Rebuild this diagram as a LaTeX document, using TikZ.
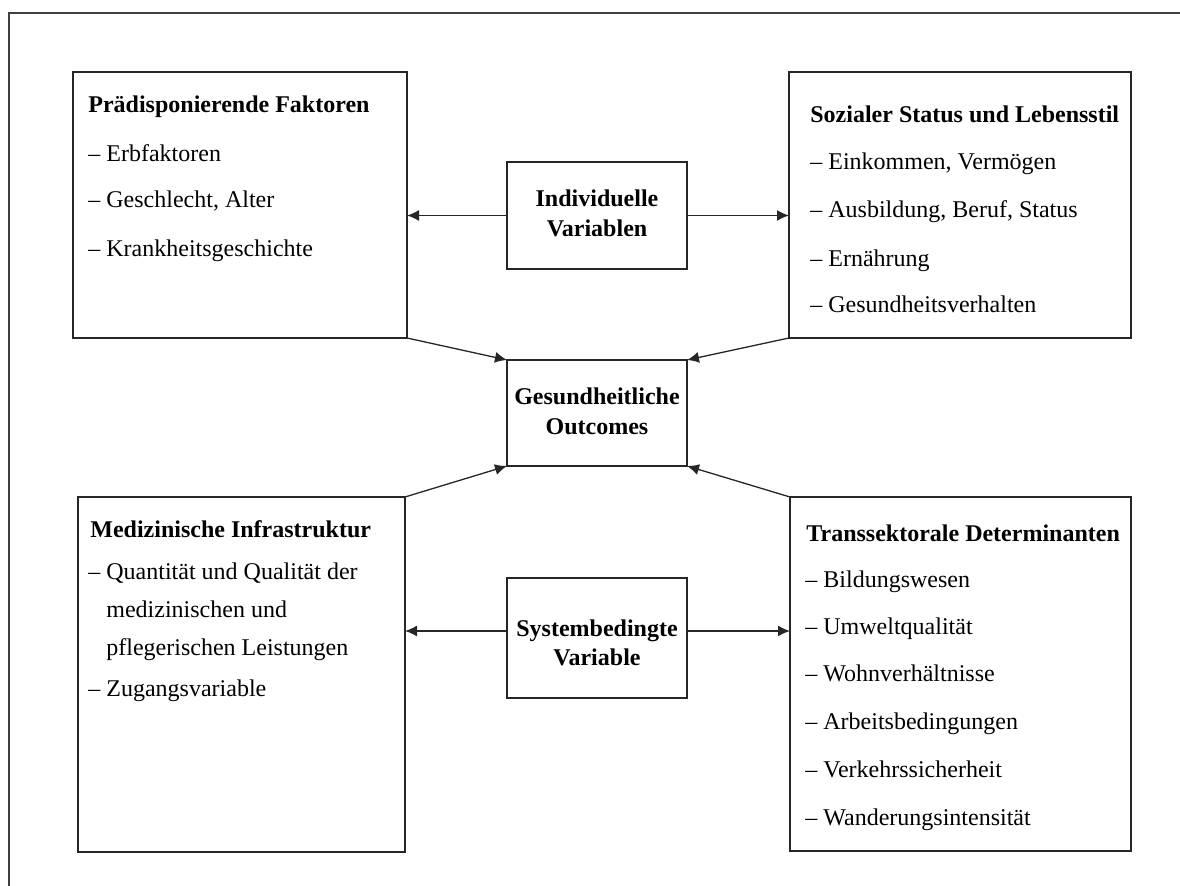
\documentclass[tikz,border=0pt]{standalone}
\usepackage{fontspec}
\setmainfont{Liberation Serif}
\usetikzlibrary{arrows.meta,calc}

\begin{document}
\begin{tikzpicture}[x=0.5pt,y=-0.5pt,
  box/.style={draw=black!85,line width=0.85pt,rectangle,inner sep=0pt,outer sep=0pt},
  title/.style={anchor=base west,inner sep=0pt,font=\bfseries\fontsize{12}{14}\selectfont},
  item/.style={anchor=base west,inner sep=0pt,font=\fontsize{12}{14}\selectfont},
  centre/.style={anchor=base,inner sep=0pt,font=\bfseries\fontsize{12}{14}\selectfont},
  link/.style={draw=black!85,line width=0.65pt,-{Latex[length=6pt,width=5.5pt]}}]

\useasboundingbox (0,0) rectangle (1180,886);
% page frame (left and top edges)
\draw[line width=0.75pt,black!75] (9,886) -- (9,13) -- (1180,13);

% boxes
\node[box,minimum width=167pt,minimum height=133pt] (pf) at (240,205) {};
\node[box,minimum width=171pt,minimum height=133pt] (ss) at (960,205) {};
\node[box,minimum width=163.5pt,minimum height=177.5pt] (mi) at (241.5,674.5) {};
\node[box,minimum width=170.5pt,minimum height=177pt] (td) at (960.5,674) {};
\node[box,minimum width=90pt,minimum height=53.5pt] (iv) at (597,215.5) {};
\node[box,minimum width=90pt,minimum height=53pt] (go) at (597,413) {};
\node[box,minimum width=90pt,minimum height=60pt] (sv) at (597,638) {};

% connectors
\draw[link] (iv.west) -- (iv.west -| pf.east);
\draw[link] (iv.east) -- (iv.east -| ss.west);
\coordinate (svl) at ($(sv.west)+(0,-7)$);
\coordinate (svr) at ($(sv.east)+(0,-7)$);
\draw[link] (svl) -- (svl -| mi.east);
\draw[link] (svr) -- (svr -| td.west);
\draw[link] (pf.south east) -- (go.north west);
\draw[link] (ss.south west) -- (go.north east);
\draw[link] (mi.north east) -- (go.south west);
\draw[link] (td.north west) -- (go.south east);

% centre labels
\node[centre] (iv1) at (597,207) {Individuelle};
\node[centre] (iv2) at (597,237) {Variablen};
\node[centre] (go1) at (597,405) {Gesundheitliche};
\node[centre] (go2) at (597,435) {Outcomes};
\node[centre] (sv1) at (597,637) {Systembedingte};
\node[centre] (sv2) at (597,666) {Variable};

% Praedisponierende Faktoren
\node[title] (pf0) at (88,113) {Prädisponierende Faktoren};
\node[item] (pf1) at (88,162) {– Erbfaktoren};
\node[item] (pf2) at (88,208) {– Geschlecht, Alter};
\node[item] (pf3) at (88,257) {– Krankheitsgeschichte};

% Sozialer Status
\node[title] (ss0) at (810,123) {Sozialer Status und Lebensstil};
\node[item] (ss1) at (810,170) {– Einkommen, Vermögen};
\node[item] (ss2) at (810,218) {– Ausbildung, Beruf, Status};
\node[item] (ss3) at (810,267) {– Ernährung};
\node[item] (ss4) at (810,313) {– Gesundheitsverhalten};

% Medizinische Infrastruktur
\node[title] (mi0) at (90,538) {Medizinische Infrastruktur};
\node[item] (mi1) at (88,580) {– Quantität und Qualität der};
\node[item] (mi2) at (88,618) {\hphantom{– }medizinischen und};
\node[item] (mi3) at (88,656) {\hphantom{– }pflegerischen Leistungen};
\node[item] (mi4) at (88,697) {– Zugangsvariable};

% Transsektorale Determinanten
\node[title] (td0) at (806,542) {Transsektorale Determinanten};
\node[item] (td1) at (805,588) {– Bildungswesen};
\node[item] (td2) at (805,635) {– Umweltqualität};
\node[item] (td3) at (805,682) {– Wohnverhältnisse};
\node[item] (td4) at (805,730) {– Arbeitsbedingungen};
\node[item] (td5) at (805,778) {– Verkehrssicherheit};
\node[item] (td6) at (805,826) {– Wanderungsintensität};
\end{tikzpicture}
\end{document}
